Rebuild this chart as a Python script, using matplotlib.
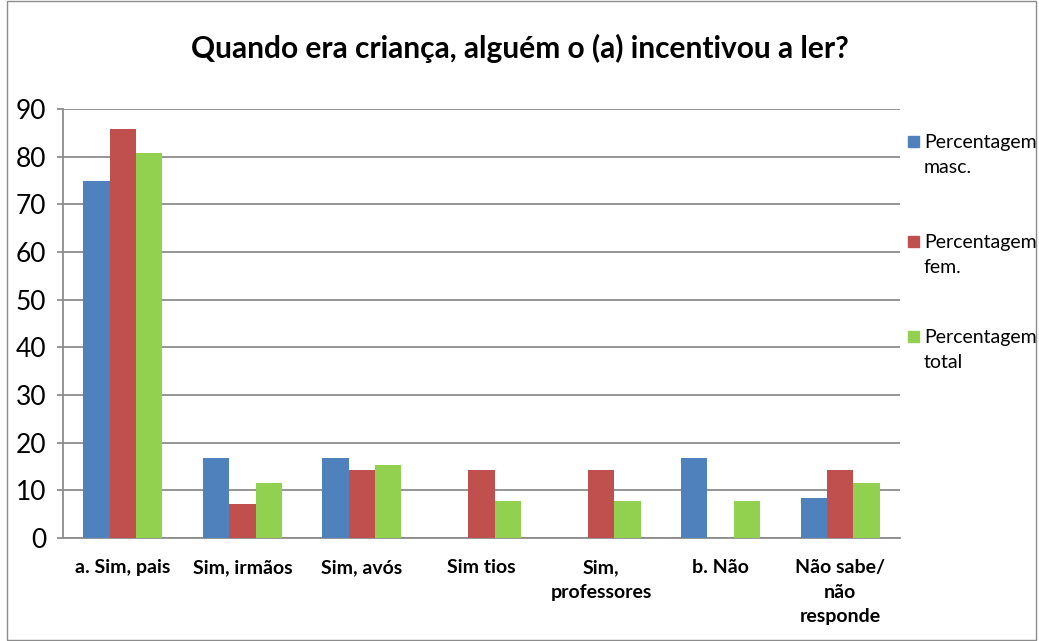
import numpy as np
import matplotlib.pyplot as plt
from matplotlib.patches import Rectangle

# Data
categories = ['a. Sim, pais', 'Sim, irmãos', 'Sim, avós', 'Sim tios',
              'Sim,\nprofessores', 'b. Não', 'Não sabe/\nnão\nresponde']
masc = [75.0, 16.7, 16.7, 0, 0, 16.7, 8.3]
fem = [85.7, 7.1, 14.3, 14.3, 14.3, 0, 14.3]
total = [80.8, 11.5, 15.4, 7.7, 7.7, 7.7, 11.5]
series_names = ['Percentagem\nmasc.', 'Percentagem\nfem.', 'Percentagem\ntotal']
colors = ['#4F81BD', '#C0504D', '#92D050']

plt.rcParams['font.family'] = ['Lato', 'DejaVu Sans']

fig = plt.figure(figsize=(10.39, 6.41), dpi=100)
ax = fig.add_axes([63/1039, 1 - 538/641, (900 - 63)/1039, (538 - 109)/641])

x = np.arange(len(categories))
w = 0.22
for i, (vals, c) in enumerate(zip([masc, fem, total], colors)):
    ax.bar(x + (i - 1) * w, vals, w, color=c, zorder=3)

ax.set_xlim(-0.5, len(categories) - 0.5)
ax.set_ylim(0, 90)
ax.set_yticks(range(0, 91, 10))
ax.yaxis.grid(True, color='#8c8c8c', linewidth=1.3, zorder=0)
ax.set_xticks(x)
ax.set_xticklabels(categories, fontsize=14, fontweight='bold', linespacing=1.55)
ax.tick_params(axis='x', length=0, pad=15)
ax.tick_params(axis='y', labelsize=19, length=4, width=1.3, color='#8c8c8c', pad=8)
for s in ['top', 'right']:
    ax.spines[s].set_visible(False)
for s in ['left', 'bottom']:
    ax.spines[s].set_color('#8c8c8c')
    ax.spines[s].set_linewidth(1.3)

fig.text(0.5, 1 - 48/641, 'Quando era criança, alguém o (a) incentivou a ler?',
         ha='center', va='center', fontsize=21.5, fontweight='bold')

# legend: square aligned with first line of each label
legend_y = [141, 241, 336]
for name, c, yy in zip(series_names, colors, legend_y):
    fig.patches.append(Rectangle((908/1039, 1 - (yy + 6)/641), 11/1039, 11/641,
                                 transform=fig.transFigure, color=c))
    fig.text(924/1039, 1 - (yy - 7)/641, name, ha='left', va='top',
             fontsize=14, linespacing=1.6)

fig.patches.append(Rectangle((7/1039, 0.002), 1029/1039, 0.996, transform=fig.transFigure,
                             fill=False, edgecolor='#8c8c8c', linewidth=1))

fig.savefig('out.png', dpi=100)
